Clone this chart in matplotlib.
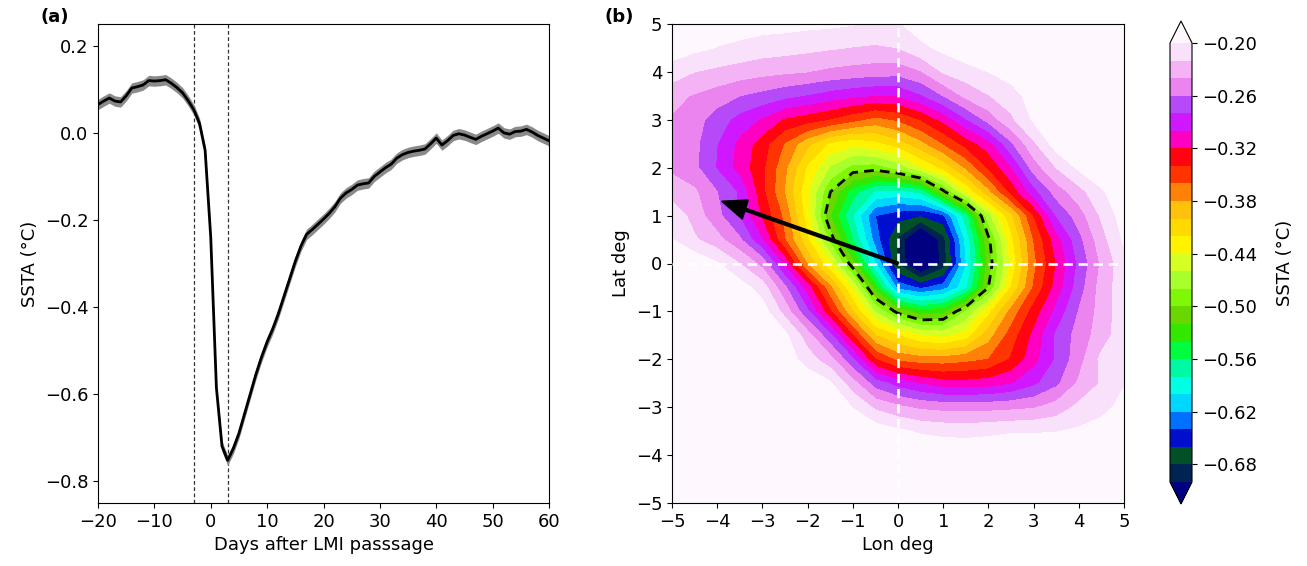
import numpy as np
import matplotlib
matplotlib.use("Agg")
import matplotlib.pyplot as plt
from matplotlib.ticker import FuncFormatter

plt.rcParams["font.family"] = ["DejaVu Sans"]
plt.rcParams["font.size"] = 13

# ---------------- panel (a): composite SSTA time series ----------------
days = list(range(-20, 61))
ssta_mean = [
    0.065, 0.073, 0.080, 0.073, 0.071, 0.085, 0.103, 0.106, 0.110, 0.120,   # -20..-11
    0.119, 0.120, 0.122, 0.114, 0.104, 0.092, 0.074, 0.053, 0.022, -0.040,  # -10..-1
    -0.240, -0.585, -0.720, -0.752, -0.725, -0.690, -0.645, -0.600, -0.555, -0.515,  # 0..9
    -0.480, -0.450, -0.415, -0.375, -0.335, -0.295, -0.260, -0.233, -0.222, -0.210,  # 10..19
    -0.198, -0.185, -0.170, -0.150, -0.138, -0.130, -0.120, -0.117, -0.115, -0.100,  # 20..29
    -0.090, -0.080, -0.072, -0.058, -0.050, -0.045, -0.042, -0.040, -0.037, -0.025,  # 30..39
    -0.012, -0.028, -0.018, -0.006, -0.002, -0.005, -0.010, -0.015, -0.008, -0.002,  # 40..49
    0.004, 0.011, 0.000, -0.003, 0.003, 0.004, 0.008, 0.002, -0.006, -0.012,        # 50..59
    -0.018,                                                                           # 60
]
band_halfwidth = 0.012
lmi_window_days = [-3, 3]

# ---------------- panel (b): storm-centred SSTA composite ----------------
lon_deg = [-5.0, -4.5, -4.0, -3.5, -3.0, -2.5, -2.0, -1.5, -1.0, -0.5, 0.0,
           0.5, 1.0, 1.5, 2.0, 2.5, 3.0, 3.5, 4.0, 4.5, 5.0]
lat_deg = [5.0, 4.5, 4.0, 3.5, 3.0, 2.5, 2.0, 1.5, 1.0, 0.5, 0.0,
           -0.5, -1.0, -1.5, -2.0, -2.5, -3.0, -3.5, -4.0, -4.5, -5.0]
# rows follow lat_deg (north to south), columns follow lon_deg (west to east)
ssta_field = [
    [-0.185, -0.186, -0.188, -0.190, -0.192, -0.193, -0.195, -0.196, -0.199, -0.203, -0.202, -0.190, -0.180, -0.175, -0.172, -0.170, -0.168, -0.166, -0.165, -0.164, -0.163],
    [-0.190, -0.195, -0.201, -0.205, -0.210, -0.212, -0.215, -0.218, -0.221, -0.223, -0.220, -0.205, -0.195, -0.185, -0.180, -0.175, -0.170, -0.168, -0.166, -0.165, -0.164],
    [-0.209, -0.220, -0.225, -0.230, -0.234, -0.237, -0.240, -0.245, -0.248, -0.251, -0.252, -0.242, -0.218, -0.209, -0.200, -0.190, -0.180, -0.175, -0.170, -0.168, -0.166],
    [-0.234, -0.242, -0.250, -0.260, -0.267, -0.275, -0.282, -0.290, -0.297, -0.301, -0.300, -0.283, -0.260, -0.235, -0.221, -0.210, -0.190, -0.180, -0.175, -0.170, -0.168],
    [-0.242, -0.252, -0.270, -0.288, -0.303, -0.324, -0.332, -0.342, -0.355, -0.368, -0.358, -0.340, -0.315, -0.283, -0.253, -0.224, -0.197, -0.185, -0.178, -0.172, -0.170],
    [-0.248, -0.255, -0.280, -0.306, -0.331, -0.362, -0.395, -0.424, -0.435, -0.427, -0.411, -0.387, -0.360, -0.333, -0.309, -0.264, -0.224, -0.190, -0.180, -0.172, -0.168],
    [-0.243, -0.255, -0.282, -0.309, -0.336, -0.376, -0.424, -0.463, -0.487, -0.490, -0.474, -0.443, -0.415, -0.378, -0.338, -0.303, -0.251, -0.220, -0.196, -0.185, -0.176],
    [-0.232, -0.237, -0.260, -0.284, -0.335, -0.382, -0.437, -0.499, -0.551, -0.583, -0.587, -0.575, -0.505, -0.440, -0.387, -0.335, -0.288, -0.251, -0.228, -0.203, -0.185],
    [-0.204, -0.229, -0.254, -0.282, -0.325, -0.366, -0.433, -0.520, -0.580, -0.640, -0.652, -0.660, -0.645, -0.570, -0.467, -0.405, -0.340, -0.280, -0.250, -0.217, -0.190],
    [-0.199, -0.217, -0.233, -0.257, -0.300, -0.360, -0.417, -0.488, -0.560, -0.630, -0.684, -0.742, -0.688, -0.595, -0.505, -0.427, -0.360, -0.310, -0.267, -0.228, -0.197],
    [-0.175, -0.185, -0.198, -0.220, -0.247, -0.307, -0.383, -0.437, -0.513, -0.600, -0.683, -0.736, -0.694, -0.602, -0.513, -0.436, -0.366, -0.320, -0.276, -0.237, -0.207],
    [-0.165, -0.170, -0.180, -0.190, -0.210, -0.256, -0.311, -0.376, -0.443, -0.531, -0.628, -0.644, -0.630, -0.585, -0.500, -0.420, -0.358, -0.313, -0.270, -0.232, -0.208],
    [-0.160, -0.163, -0.170, -0.180, -0.190, -0.228, -0.277, -0.337, -0.400, -0.463, -0.507, -0.533, -0.527, -0.480, -0.427, -0.374, -0.332, -0.295, -0.259, -0.232, -0.208],
    [-0.155, -0.158, -0.162, -0.170, -0.180, -0.195, -0.231, -0.275, -0.340, -0.400, -0.420, -0.440, -0.446, -0.431, -0.389, -0.351, -0.316, -0.277, -0.252, -0.230, -0.207],
    [-0.150, -0.153, -0.157, -0.163, -0.172, -0.188, -0.210, -0.233, -0.277, -0.340, -0.366, -0.372, -0.372, -0.367, -0.360, -0.338, -0.308, -0.278, -0.248, -0.215, -0.205],
    [-0.148, -0.150, -0.153, -0.157, -0.163, -0.172, -0.185, -0.197, -0.232, -0.270, -0.289, -0.302, -0.312, -0.313, -0.310, -0.302, -0.285, -0.265, -0.237, -0.218, -0.201],
    [-0.145, -0.147, -0.150, -0.153, -0.157, -0.162, -0.170, -0.182, -0.201, -0.224, -0.236, -0.244, -0.247, -0.248, -0.247, -0.245, -0.242, -0.232, -0.215, -0.205, -0.195],
    [-0.140, -0.142, -0.144, -0.147, -0.150, -0.155, -0.160, -0.167, -0.178, -0.188, -0.196, -0.203, -0.206, -0.207, -0.205, -0.202, -0.202, -0.201, -0.197, -0.193, -0.185],
    [-0.135, -0.137, -0.140, -0.142, -0.145, -0.148, -0.152, -0.157, -0.163, -0.170, -0.175, -0.180, -0.183, -0.184, -0.183, -0.182, -0.181, -0.180, -0.178, -0.175, -0.170],
    [-0.130, -0.132, -0.134, -0.136, -0.138, -0.141, -0.144, -0.148, -0.153, -0.158, -0.162, -0.166, -0.168, -0.169, -0.168, -0.167, -0.166, -0.165, -0.163, -0.161, -0.158],
    [-0.125, -0.127, -0.129, -0.131, -0.133, -0.135, -0.138, -0.141, -0.145, -0.149, -0.152, -0.155, -0.157, -0.158, -0.157, -0.156, -0.155, -0.154, -0.152, -0.150, -0.148],
]
dashed_level = -0.50
storm_motion = (-3.9, 1.3)       # arrow end point (lon, lat) from the storm centre
level_min, level_max, level_step = -0.70, -0.20, 0.02

# ---------------- figure ----------------
W, H = 1307, 566
fig = plt.figure(figsize=(W / 100, H / 100), dpi=100)

def box(x0, y0, x1, y1):
    return [x0 / W, 1 - y1 / H, (x1 - x0) / W, (y1 - y0) / H]

ax1 = fig.add_axes(box(98, 24, 549, 503))
ax2 = fig.add_axes(box(672, 24, 1124, 503))
cax = fig.add_axes(box(1170, 21, 1192, 504))

# panel (a)
mean = np.array(ssta_mean)
ax1.fill_between(days, mean - band_halfwidth, mean + band_halfwidth,
                 color="#8a8a8a", lw=0, zorder=2)
ax1.plot(days, mean, color="black", lw=2.0, zorder=3)
for d in lmi_window_days:
    ax1.axvline(d, color="#333333", lw=0.9, ls=(0, (3, 2)), zorder=1)
ax1.set_xlim(-20, 60)
ax1.set_ylim(-0.85, 0.25)
ax1.set_xticks(list(range(-20, 61, 10)))
ax1.set_yticks([0.2, 0.0, -0.2, -0.4, -0.6, -0.8])
ax1.yaxis.set_major_formatter(FuncFormatter(lambda v, p: f"{v:.1f}".replace("-", "\u2212")))
ax1.set_xlabel("Days after LMI passsage")
ax1.set_ylabel("SSTA (°C)")

# panel (b)
lon = np.array(lon_deg)
lat = np.array(lat_deg)[::-1]
Z = np.array(ssta_field)[::-1, :]
levels = np.round(np.arange(level_min, level_max + level_step / 2, level_step), 2)
cf = ax2.contourf(lon, lat, Z, levels=levels, cmap="gist_ncar", extend="both")
ax2.contour(lon, lat, Z, levels=[dashed_level], colors="black",
            linewidths=2.0, linestyles=[(0, (3.5, 2.2))])
ax2.axhline(0, color="white", lw=1.9, ls=(0, (3.5, 2.2)), zorder=4)
ax2.axvline(0, color="white", lw=1.9, ls=(0, (3.5, 2.2)), zorder=4)
ax2.arrow(0, 0, storm_motion[0], storm_motion[1], width=0.06, head_width=0.42,
          head_length=0.55, length_includes_head=True, fc="black", ec="black", zorder=5)
ax2.set_xlim(-5, 5)
ax2.set_ylim(-5, 5)
ax2.set_xticks(list(range(-5, 6)))
ax2.set_yticks(list(range(-5, 6)))
ax2.set_xlabel("Lon deg")
ax2.set_ylabel("Lat deg")

cb = fig.colorbar(cf, cax=cax, ticks=levels[1::3])
cb.ax.yaxis.set_major_formatter(FuncFormatter(lambda v, p: f"{v:.2f}".replace("-", "\u2212")))
cb.set_label("SSTA (°C)", labelpad=14)

fig.text(40 / W, 1 - 17 / H, "(a)", fontweight="bold", fontsize=13, va="center", ha="left")
fig.text(605 / W, 1 - 17 / H, "(b)", fontweight="bold", fontsize=13, va="center", ha="left")

fig.savefig("out.png", dpi=100)
